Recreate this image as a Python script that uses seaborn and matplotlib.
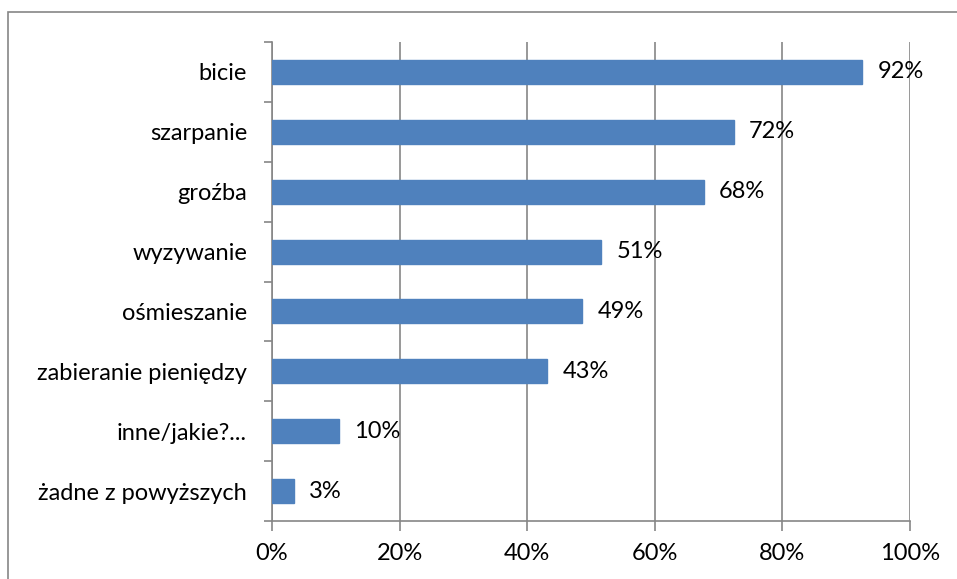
import numpy as np
import pandas as pd
import seaborn as sns
import matplotlib.pyplot as plt
from matplotlib.patches import Rectangle
from matplotlib.ticker import FixedLocator, PercentFormatter

# Data
categories = ["bicie", "szarpanie", "groźba", "wyzywanie", "ośmieszanie",
              "zabieranie pieniędzy", "inne/jakie?...", "żadne z powyższych"]
values = [0.925, 0.724, 0.677, 0.516, 0.486, 0.431, 0.105, 0.034]
labels = ["92%", "72%", "68%", "51%", "49%", "43%", "10%", "3%"]

df = pd.DataFrame({"category": categories, "value": values})

sns.set_style("white")
plt.rcParams['font.family'] = ['Lato', 'DejaVu Sans']

grey = "#868686"
bar_color = "#4F81BD"
fs = 17

fig = plt.figure(figsize=(9.57, 5.79), dpi=100)
ax = fig.add_axes([272 / 957, 1 - 521 / 579, (910 - 272) / 957, (521 - 42) / 579])

sns.barplot(data=df, x="value", y="category", orient="h", width=0.4,
            color=bar_color, edgecolor=bar_color, saturation=1, ax=ax, zorder=3)

ax.set_xlim(0, 1)
ax.set_ylim(len(categories) - 0.5, -0.5)
ax.set_xlabel("")
ax.set_ylabel("")

ax.xaxis.set_major_locator(FixedLocator(np.linspace(0, 1, 6)))
ax.xaxis.set_major_formatter(PercentFormatter(1.0, decimals=0))
ax.grid(axis="x", color=grey, linewidth=1.2, zorder=1)
ax.grid(axis="y", visible=False)

# category ticks at the band boundaries, as in Excel
ax.yaxis.set_minor_locator(FixedLocator(np.arange(-0.5, len(categories), 1)))
ax.tick_params(axis="y", which="major", length=0, pad=18, labelsize=fs, labelcolor="black")
ax.tick_params(axis="y", which="minor", length=6, width=1.2, color=grey, direction="out", left=True)
ax.tick_params(axis="x", which="major", length=7, width=1.2, color=grey, direction="out",
               bottom=True, pad=9, labelsize=fs, labelcolor="black")

for side in ["top", "right"]:
    ax.spines[side].set_visible(False)
for side in ["left", "bottom"]:
    ax.spines[side].set_color(grey)
    ax.spines[side].set_linewidth(1.2)

for i, (v, lab) in enumerate(zip(values, labels)):
    ax.annotate(lab, xy=(v, i), xytext=(11, 0), textcoords="offset points",
                va="center", ha="left", fontsize=fs, color="black", zorder=4)

# chart area border
fig.patches.append(Rectangle((8 / 957, -0.1), 1.2, 1 - 12 / 579 + 0.1,
                             transform=fig.transFigure, fill=False,
                             edgecolor=grey, linewidth=1.2))

fig.savefig("out.png", dpi=100)
